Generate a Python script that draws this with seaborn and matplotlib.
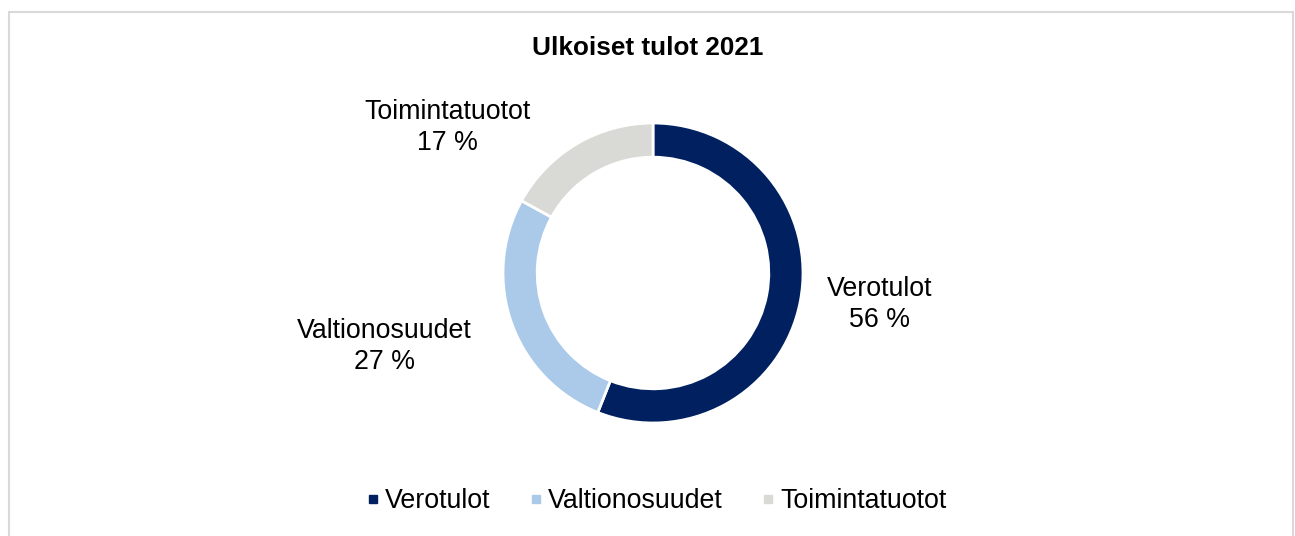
import matplotlib
matplotlib.use("Agg")
import matplotlib.pyplot as plt
from matplotlib.lines import Line2D
from matplotlib.patches import Rectangle
import seaborn as sns

# -----------------------
# Data
# -----------------------

categories = ["Verotulot", "Valtionosuudet", "Toimintatuotot"]
shares = [56, 27, 17]
colors = ["#002060", "#ABCAE9", "#D9D9D6"]
title = "Ulkoiset tulot 2021"

# label anchor points (data units, 1 unit = outer radius)
label_xy = [(1.51, -0.21), (-1.79, -0.49), (-1.37, 0.97)]

sns.set_theme(style="white")
plt.rcParams["font.family"] = ["Liberation Sans", "DejaVu Sans"]
plt.rcParams["text.color"] = "black"

W, H = 1295, 536
cx, cy, R = 653, 273, 150

fig = plt.figure(figsize=(W / 100, H / 100), dpi=100)
ax = fig.add_axes([0, 0, 1, 1])

wedges, _ = ax.pie(
    shares,
    colors=colors,
    startangle=90,
    counterclock=False,
    radius=1.0,
    wedgeprops=dict(width=0.228, edgecolor="white", linewidth=2),
)

# fix scale after pie: 1 data unit = R pixels
ax.set_xlim(-cx / R, (W - cx) / R)
ax.set_ylim(-(H - cy) / R, cy / R)
ax.set_aspect("equal")
ax.axis("off")

for name, val, (x, y) in zip(categories, shares, label_xy):
    ax.text(
        x, y, f"{name}\n{val} %",
        ha="center", va="center",
        fontsize=19.3, color="black", linespacing=1.25
    )

fig.text(
    0.5, 1 - 48 / H, title,
    ha="center", va="center",
    fontsize=18.8, fontweight="bold", color="black"
)

handles = [
    Line2D([], [], marker="s", linestyle="none",
           markersize=6, markerfacecolor=c, markeredgecolor=c)
    for c in colors
]
leg = fig.legend(
    handles, categories,
    loc="center", bbox_to_anchor=(0.5 + 8 / W, 1 - 501 / H),
    ncol=3, frameon=False, fontsize=19.3,
    handletextpad=0.15, columnspacing=1.4, handlelength=0.6
)
for t in leg.get_texts():
    t.set_color("black")

# outer chart border
fig.patches.append(Rectangle(
    (9 / W, -0.05), (1293 - 9) / W, 1.05 - 12 / H,
    transform=fig.transFigure, fill=False,
    edgecolor="#D9D9D9", linewidth=1.5
))

fig.savefig("out.png", dpi=100)
plt.close(fig)
